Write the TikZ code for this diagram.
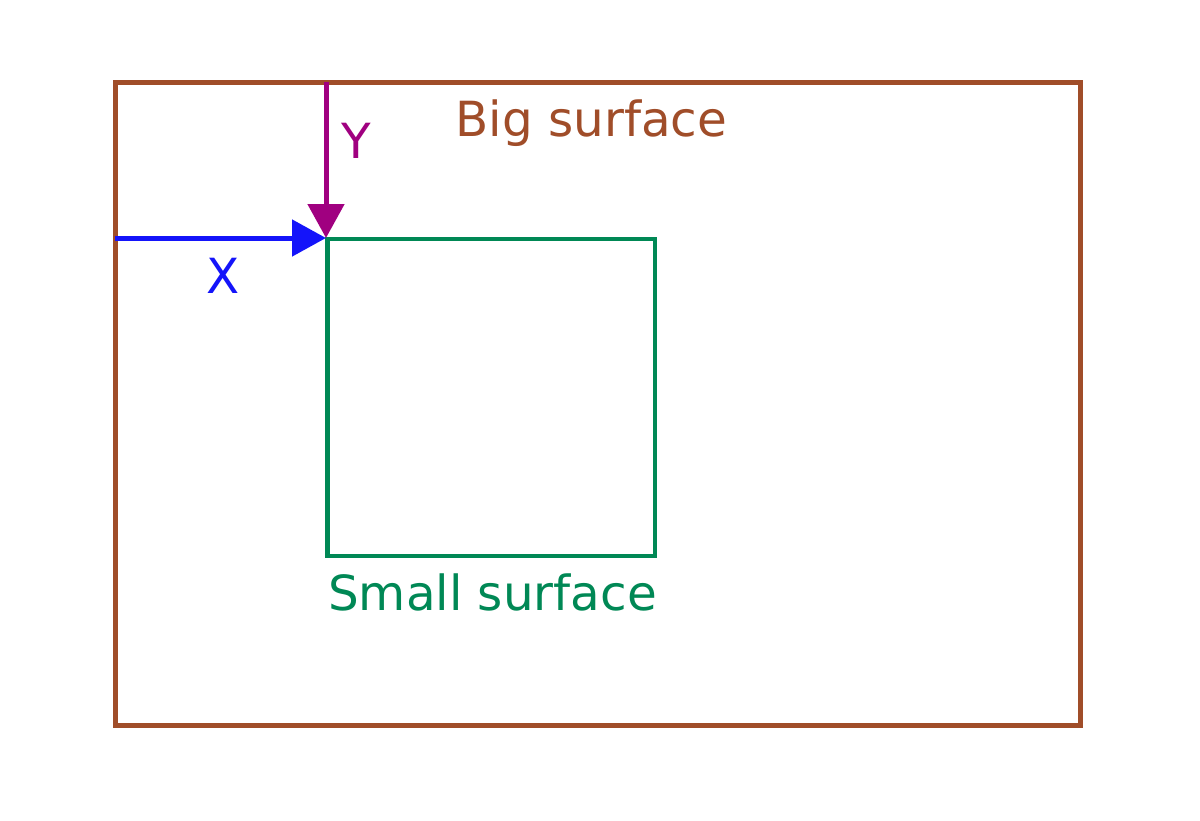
\documentclass[tikz,border=0pt]{standalone}
\usepackage{fontspec}
\setmainfont{DejaVu Sans}
\usetikzlibrary{arrows.meta}
\definecolor{bigc}{RGB}{160,77,41}
\definecolor{smallc}{RGB}{0,136,85}
\definecolor{xc}{RGB}{20,20,250}
\definecolor{yc}{RGB}{160,0,128}
\tikzset{
  lbl/.style={inner sep=0pt, anchor=base, font=\fontsize{48.4bp}{58bp}\selectfont},
  axisarrow/.style={line width=5bp, -{Triangle[length=34bp,width=36bp]}},
}
\begin{document}
\begin{tikzpicture}[x=1bp,y=-1bp]
\useasboundingbox (0,0) rectangle (1200,821);
\fill[white] (0,0) rectangle (1200,821);
\draw[bigc, line width=5bp] (115,82.5) rectangle (1080,725);
\draw[smallc, line width=4.5bp] (327.5,239) rectangle (655,556);
\coordinate (xs) at (115,238);
\coordinate (ys) at (326,82);
\coordinate (corner) at (326,238);
\draw[axisarrow, xc] (xs) -- (corner);
\draw[axisarrow, yc] (ys) -- (corner);
\node[lbl, text=bigc] (big) at (591.5,136) {Big surface};
\node[lbl, text=smallc] (small) at (492.5,610) {Small surface};
\node[lbl, text=yc] (ylab) at (356,158) {Y};
\node[lbl, text=xc] (xlab) at (223.5,293) {X};
\end{tikzpicture}
\end{document}
